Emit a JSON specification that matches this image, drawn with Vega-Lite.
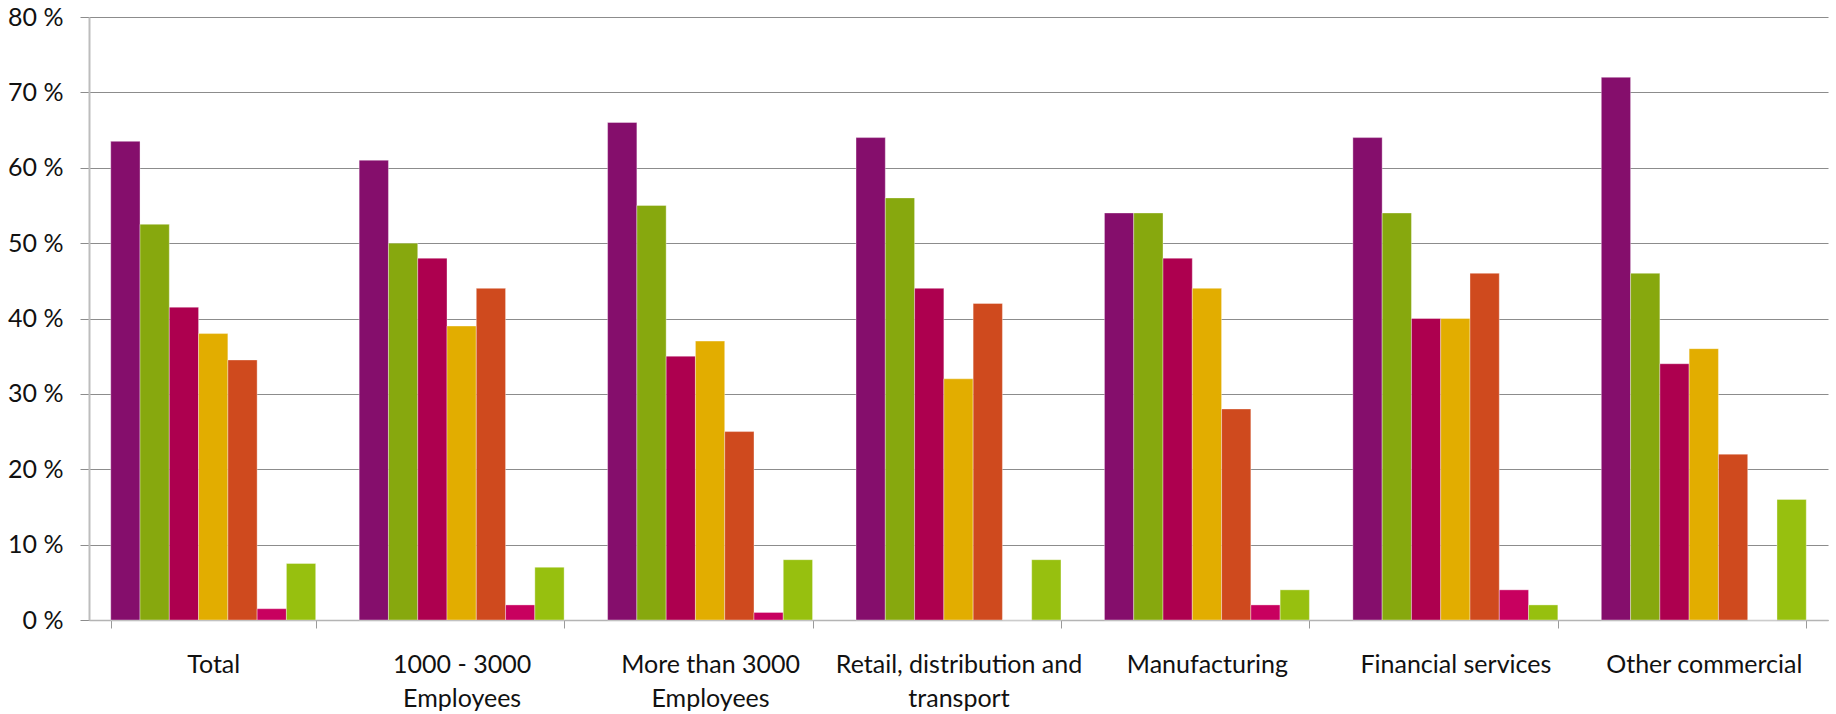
{
  "$schema": "https://vega.github.io/schema/vega-lite/v6.json",
  "width": 1739,
  "height": 603,
  "autosize": {"type": "none"},
  "padding": {"left": 89, "top": 17, "right": 8, "bottom": 94},
  "background": "white",
  "config": {
    "view": {"stroke": null},
    "font": "Lato",
    "axis": {"labelFont": "Lato", "labelColor": "#111111", "labelFontSize": 25, "labelLimit": 0}
  },
  "data": {
    "values": [
      {"category": "Total", "series": "S1", "value": 63.5},
      {"category": "Total", "series": "S2", "value": 52.5},
      {"category": "Total", "series": "S3", "value": 41.5},
      {"category": "Total", "series": "S4", "value": 38},
      {"category": "Total", "series": "S5", "value": 34.5},
      {"category": "Total", "series": "S6", "value": 1.5},
      {"category": "Total", "series": "S7", "value": 7.5},
      {"category": "1000 - 3000 Employees", "series": "S1", "value": 61},
      {"category": "1000 - 3000 Employees", "series": "S2", "value": 50},
      {"category": "1000 - 3000 Employees", "series": "S3", "value": 48},
      {"category": "1000 - 3000 Employees", "series": "S4", "value": 39},
      {"category": "1000 - 3000 Employees", "series": "S5", "value": 44},
      {"category": "1000 - 3000 Employees", "series": "S6", "value": 2},
      {"category": "1000 - 3000 Employees", "series": "S7", "value": 7},
      {"category": "More than 3000 Employees", "series": "S1", "value": 66},
      {"category": "More than 3000 Employees", "series": "S2", "value": 55},
      {"category": "More than 3000 Employees", "series": "S3", "value": 35},
      {"category": "More than 3000 Employees", "series": "S4", "value": 37},
      {"category": "More than 3000 Employees", "series": "S5", "value": 25},
      {"category": "More than 3000 Employees", "series": "S6", "value": 1},
      {"category": "More than 3000 Employees", "series": "S7", "value": 8},
      {"category": "Retail, distribution and transport", "series": "S1", "value": 64},
      {"category": "Retail, distribution and transport", "series": "S2", "value": 56},
      {"category": "Retail, distribution and transport", "series": "S3", "value": 44},
      {"category": "Retail, distribution and transport", "series": "S4", "value": 32},
      {"category": "Retail, distribution and transport", "series": "S5", "value": 42},
      {"category": "Retail, distribution and transport", "series": "S6", "value": 0},
      {"category": "Retail, distribution and transport", "series": "S7", "value": 8},
      {"category": "Manufacturing", "series": "S1", "value": 54},
      {"category": "Manufacturing", "series": "S2", "value": 54},
      {"category": "Manufacturing", "series": "S3", "value": 48},
      {"category": "Manufacturing", "series": "S4", "value": 44},
      {"category": "Manufacturing", "series": "S5", "value": 28},
      {"category": "Manufacturing", "series": "S6", "value": 2},
      {"category": "Manufacturing", "series": "S7", "value": 4},
      {"category": "Financial services", "series": "S1", "value": 64},
      {"category": "Financial services", "series": "S2", "value": 54},
      {"category": "Financial services", "series": "S3", "value": 40},
      {"category": "Financial services", "series": "S4", "value": 40},
      {"category": "Financial services", "series": "S5", "value": 46},
      {"category": "Financial services", "series": "S6", "value": 4},
      {"category": "Financial services", "series": "S7", "value": 2},
      {"category": "Other commercial", "series": "S1", "value": 72},
      {"category": "Other commercial", "series": "S2", "value": 46},
      {"category": "Other commercial", "series": "S3", "value": 34},
      {"category": "Other commercial", "series": "S4", "value": 36},
      {"category": "Other commercial", "series": "S5", "value": 22},
      {"category": "Other commercial", "series": "S6", "value": 0},
      {"category": "Other commercial", "series": "S7", "value": 16}
    ]
  },
  "mark": {"type": "bar", "stroke": "#ffffff", "strokeWidth": 0.6, "strokeOpacity": 0.6},
  "encoding": {
    "x": {
      "field": "category",
      "type": "nominal",
      "sort": null,
      "scale": {"paddingInner": 0.175, "paddingOuter": 0.0875},
      "axis": {
        "title": null,
        "labelAngle": 0,
        "tickBand": "extent",
        "tickSize": 8,
        "tickColor": "#9a9a9a",
        "domainColor": "#b4b4b4",
        "domainWidth": 1.5,
        "grid": false,
        "labelPadding": 24,
        "labelLineHeight": 34,
        "labelExpr": "datum.value == '1000 - 3000 Employees' ? ['1000 - 3000', 'Employees'] : datum.value == 'More than 3000 Employees' ? ['More than 3000', 'Employees'] : datum.value == 'Retail, distribution and transport' ? ['Retail, distribution and', 'transport'] : datum.value"
      }
    },
    "xOffset": {"field": "series", "type": "nominal", "scale": {"paddingInner": 0, "paddingOuter": 0}},
    "y": {
      "field": "value",
      "type": "quantitative",
      "scale": {"domain": [0, 80], "nice": false},
      "axis": {
        "title": null,
        "values": [0, 10, 20, 30, 40, 50, 60, 70, 80],
        "labelExpr": "datum.value + ' %'",
        "grid": true,
        "gridColor": "#8c8c8c",
        "gridWidth": 1.2,
        "tickSize": 9,
        "tickColor": "#8c8c8c",
        "domainColor": "#bdbdbd",
        "domainWidth": 2,
        "labelPadding": 17
      }
    },
    "color": {
      "field": "series",
      "type": "nominal",
      "legend": null,
      "scale": {
        "domain": ["S1", "S2", "S3", "S4", "S5", "S6", "S7"],
        "range": ["#850E6C", "#87A80E", "#AD004F", "#E2AD00", "#CF4A1E", "#C8005F", "#97C00F"]
      }
    }
  }
}
